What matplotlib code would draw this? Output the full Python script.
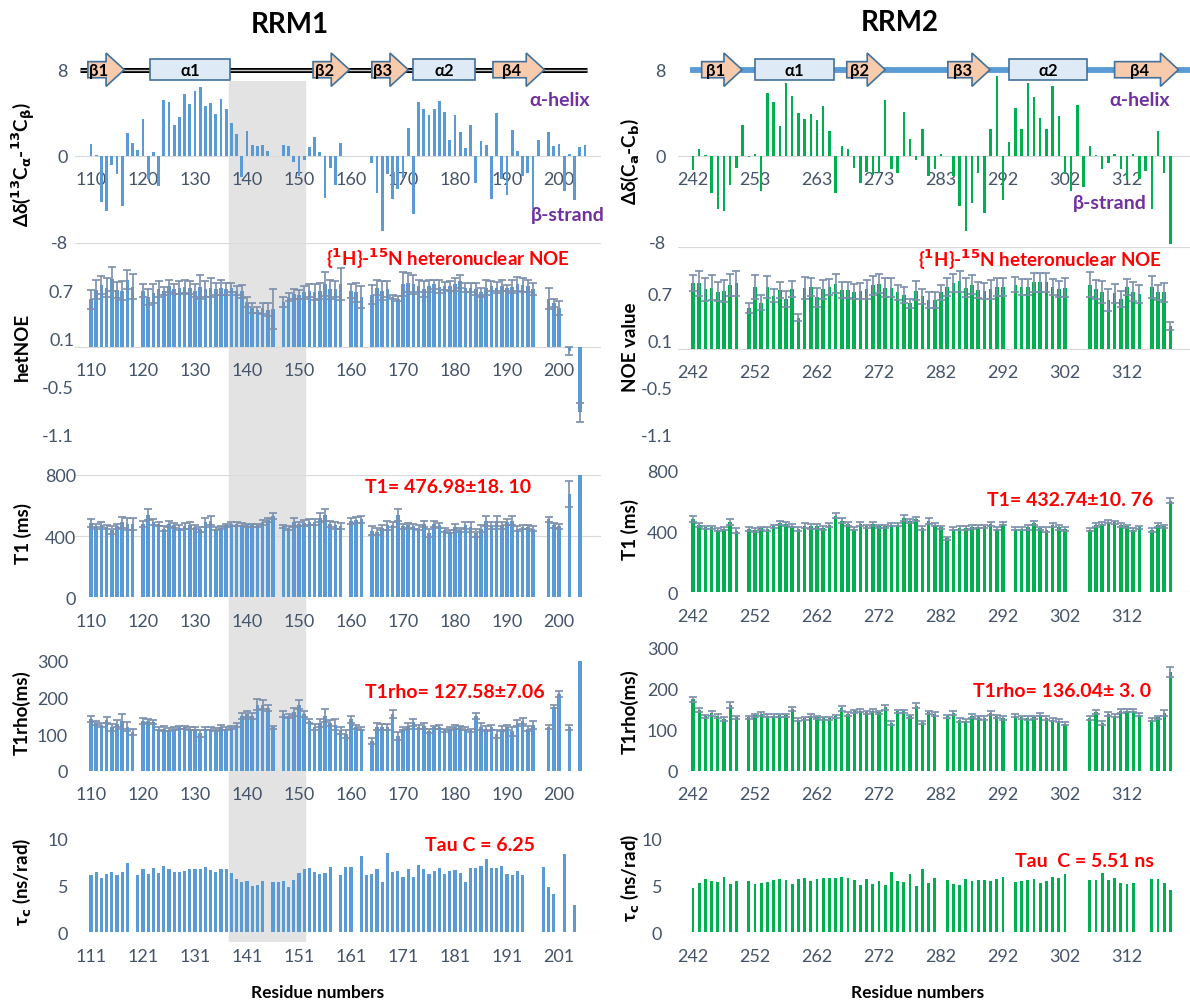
import numpy as np
import matplotlib
matplotlib.use("Agg")
import matplotlib.pyplot as plt
from matplotlib.patches import Polygon, Rectangle

nan = np.nan

# ---------------- RRM1: categories start at residue 110 ----------------
rrm1_labels = ['110', '120', '130', '140', '150', '160', '170', '180', '190', '200']
rrm1_tau_labels = ['111', '121', '131', '141', '151', '161', '171', '181', '191', '201']

rrm1_csi = [1.1, 0.1, -4.3, -5.1, -0.9, -1.7, -4.7, 2.1, 1.2, 0.5,
            3.4, -2.2, 0.3, -2.8, 5.2, 5.0, 2.9, 3.6, 5.7, 4.8,
            6.0, 6.4, 4.6, 4.9, 3.9, 5.3, 4.3, 3.0, 2.0, -2.0,
            2.3, 1.0, 0.9, 1.0, 0.4, nan, nan, 1.0, 0.9, -0.6,
            -1.9, -0.4, 0.8, 1.7, 0.3, -3.9, -1.1, -2.7, 1.2, nan,
            nan, nan, nan, nan, -0.7, -3.5, -7.0, -1.7, -4.0, -3.1,
            -2.1, 2.6, -5.4, 5.0, 4.3, 3.8, 4.3, 5.1, 4.1, 1.5,
            3.8, 2.2, 0.7, 2.9, -2.5, 1.4, 1.0, -4.0, 4.0, -2.2,
            -3.7, 2.4, 0.4, -1.9, -1.6, -5.0, 1.5, nan, 2.2, 0.9,
            1.1, -3.3, 0.2, -4.1, 0.8, 1.0]

rrm1_noe = [0.59, 0.71, 0.77, 0.74, 0.85, 0.71, 0.70, 0.84, 0.75, nan,
            0.70, 0.62, 0.67, 0.72, 0.70, 0.76, 0.72, 0.74, 0.75, 0.74,
            0.70, 0.75, 0.72, 0.74, 0.72, 0.74, 0.72, 0.74, 0.70, 0.69,
            0.56, 0.48, 0.46, 0.48, 0.46, 0.47, nan, 0.56, 0.62, 0.66,
            0.65, 0.68, 0.70, 0.68, 0.70, 0.78, 0.72, 0.72, 0.78, nan,
            0.70, 0.68, 0.62, nan, 0.65, 0.74, 0.70, 0.72, 0.62, 0.60,
            0.78, 0.80, 0.78, 0.76, 0.72, 0.76, 0.78, 0.75, 0.76, 0.76,
            0.78, 0.82, 0.74, 0.74, 0.72, 0.68, 0.74, 0.76, 0.74, 0.76,
            0.73, 0.75, 0.78, 0.77, 0.76, 0.72, nan, nan, 0.60, 0.55,
            0.48, nan, -0.06, nan, -0.82]
rrm1_noe_err = [0.12, 0.12, 0.11, 0.12, 0.15, 0.10, 0.12, 0.12, 0.16, nan,
                0.08, 0.10, 0.12, 0.10, 0.05, 0.08, 0.06, 0.08, 0.08, 0.08,
                0.08, 0.15, 0.10, 0.12, 0.08, 0.10, 0.08, 0.06, 0.06, 0.08,
                0.06, 0.06, 0.04, 0.07, 0.08, 0.25, nan, 0.06, 0.05, 0.06,
                0.06, 0.08, 0.08, 0.10, 0.10, 0.15, 0.12, 0.10, 0.20, nan,
                0.09, 0.12, 0.14, nan, 0.12, 0.10, 0.12, 0.10, 0.03, 0.03,
                0.15, 0.12, 0.12, 0.08, 0.10, 0.08, 0.06, 0.08, 0.05, 0.06,
                0.08, 0.08, 0.06, 0.06, 0.08, 0.06, 0.10, 0.06, 0.07, 0.07,
                0.04, 0.08, 0.09, 0.09, 0.08, 0.08, nan, nan, 0.13, 0.05,
                0.09, nan, 0.05, nan, 0.12]

rrm1_t1 = [485, 465, 475, 460, 440, 465, 490, 480, 480, nan,
           480, 540, 490, 480, 450, 480, 470, 455, 465, 470,
           460, 445, 490, 500, 450, 455, 470, 478, 478, 475,
           472, 470, 470, 490, 505, 530, nan, 465, 455, 490,
           480, 485, 495, 490, 520, 540, 480, 470, 465, nan,
           500, 505, 510, nan, 435, 430, 455, 470, 475, 540,
           465, 470, 465, 455, 480, 420, 480, 470, 440, 430,
           460, 440, 470, 460, 420, 450, 500, 470, 500, 470,
           490, 500, 450, 460, 460, 450, nan, nan, 510, 470,
           465, nan, 675, nan, 800]
rrm1_t1_err = [25, 15, 15, 15, 25, 15, 35, 40, 40, nan,
               20, 35, 20, 15, 15, 20, 15, 15, 20, 20,
               15, 15, 30, 30, 10, 10, 10, 12, 12, 10,
               10, 10, 10, 15, 15, 20, nan, 10, 12, 30,
               15, 20, 20, 20, 30, 40, 20, 20, 20, nan,
               20, 20, 25, nan, 30, 25, 15, 30, 15, 40,
               15, 15, 15, 15, 20, 25, 20, 15, 15, 10,
               20, 15, 20, 30, 25, 25, 35, 20, 35, 20,
               20, 30, 15, 15, 15, 15, nan, nan, 15, 15,
               15, nan, 85, nan, nan]

rrm1_t1rho = [140, 130, 125, 138, 118, 128, 135, 120, 105, nan,
              135, 135, 132, 115, 115, 112, 115, 118, 118, 115,
              115, 102, 115, 115, 112, 118, 115, 118, 125, 150,
              155, 150, 180, 180, 172, 118, nan, 155, 150, 160,
              180, 155, 135, 120, 130, 150, 130, 125, 110, 100,
              140, 120, 115, nan, 80, 120, 120, 120, 155, 95,
              115, 122, 132, 120, 122, 108, 118, 120, 110, 115,
              120, 118, 115, 110, 150, 120, 115, 118, 100, 115,
              118, 108, 130, 135, 115, 125, nan, nan, 120, 175,
              210, nan, 118, nan, 300]
rrm1_t1rho_err = [8, 6, 6, 8, 10, 10, 20, 12, 8, nan,
                  8, 6, 5, 5, 8, 5, 4, 5, 5, 5,
                  5, 10, 5, 5, 5, 6, 5, 5, 6, 8,
                  8, 8, 15, 12, 8, 5, nan, 8, 5, 12,
                  12, 8, 5, 8, 12, 18, 8, 15, 10, 10,
                  10, 5, 5, nan, 8, 10, 8, 8, 10, 10,
                  5, 8, 10, 5, 8, 5, 5, 5, 5, 5,
                  5, 5, 5, 5, 8, 10, 8, 8, 10, 8,
                  8, 12, 8, 8, 8, 10, nan, nan, 5, 5,
                  8, nan, 6, nan, nan]

rrm1_tau = [6.1, 6.45, 5.8, 6.2, 6.45, 6.1, 6.45, 7.4, nan, 6.1,
            6.7, 6.2, 6.85, 6.3, 7.1, 6.7, 6.45, 6.45, 6.55, 6.7,
            6.7, 6.7, 6.9, 6.6, 6.45, 6.7, 6.7, 6.3, 5.7, 5.4,
            5.5, 4.95, 5.0, 5.5, nan, 5.4, 5.4, 5.5, 4.8, 5.55,
            6.3, 6.7, 6.85, 6.45, 6.2, 6.3, 6.9, nan, 6.1, 6.9,
            7.0, nan, 8.1, 6.1, 6.2, 6.7, 5.4, 8.45, 6.45, 6.55,
            5.85, 6.7, 5.85, 7.15, 6.7, 6.2, 6.55, 6.85, 6.2, 6.55,
            6.65, 6.3, 5.4, 6.85, 6.85, 7.1, 7.8, 6.85, 6.85, 7.1,
            6.2, 6.1, 6.55, 6.1, nan, nan, nan, 6.9, 4.8, 4.1,
            nan, 8.35, nan, 2.9]

# secondary structure of RRM1 (category positions)
rrm1_ss_start = [-0.6, 11.4, 42.7, 54.0, 62.0, 77.3]
rrm1_ss_end = [6.4, 26.8, 49.7, 61.0, 73.8, 87.2]
rrm1_ss_kind = ['strand', 'helix', 'strand', 'strand', 'helix', 'strand']
rrm1_ss_name = ['β1', 'α1', 'β2', 'β3', 'α2', 'β4']
rrm1_ss_line = [-2.2, 95.4]
rrm1_shade = [26.6, 41.2]

# ---------------- RRM2: categories start at residue 242 ----------------
rrm2_csi_labels = ['242', '253', '263', '273', '283', '292', '302', '312']
rrm2_labels = ['242', '252', '262', '272', '282', '292', '302', '312']

rrm2_csi = [-1.3, 0.6, 0.05, -3.5, -5.0, -5.1, -2.7, -1.1, 2.9, -0.15,
            0.2, -3.3, 5.8, 5.0, 2.8, 6.8, 5.6, 4.0, 3.4, 3.9,
            3.3, 4.6, 2.3, -3.5, 0.9, 0.6, -1.1, -2.5, -1.5, -1.8,
            -1.6, 5.2, -1.2, -1.6, 4.1, 1.6, -0.4, 2.5, -1.9, -1.2,
            0.15, nan, -1.9, -4.7, -7.0, -4.4, -1.6, -5.3, 2.5, 7.4,
            -4.1, 1.3, 4.4, 2.5, 6.8, 5.5, 3.5, 2.5, 6.5, 3.7,
            -1.7, -3.3, 4.7, -2.9, 0.9, 0.05, -1.2, -0.7, 0.15, -1.2,
            -2.3, 0.2, -2.2, -1.4, -5.0, 2.3, -1.6, -8.2]

rrm2_noe = [0.84, 0.84, 0.76, 0.78, 0.73, 0.74, 0.81, 0.84, nan, 0.52,
            0.79, 0.59, 0.79, 0.68, 0.75, 0.64, 0.76, 0.40, 0.78, 0.79,
            0.66, 0.76, 0.79, 0.83, 0.75, 0.75, 0.73, 0.74, 0.76, 0.81,
            0.83, 0.78, 0.78, 0.72, 0.69, 0.58, 0.74, 0.67, 0.62, 0.62,
            0.72, 0.79, 0.84, 0.86, 0.78, 0.82, 0.75, 0.74, 0.76, 0.79,
            0.79, nan, 0.82, 0.79, 0.79, 0.85, 0.85, 0.85, 0.79, 0.76,
            0.78, nan, nan, nan, 0.82, 0.76, 0.73, 0.62, 0.71, 0.64,
            0.79, 0.73, 0.70, nan, 0.79, 0.72, 0.72, 0.29]
rrm2_noe_err = [0.10, 0.16, 0.15, 0.16, 0.12, 0.14, 0.14, 0.16, nan, 0.06,
                0.15, 0.10, 0.14, 0.08, 0.10, 0.10, 0.10, 0.04, 0.14, 0.12,
                0.12, 0.12, 0.10, 0.12, 0.10, 0.10, 0.10, 0.10, 0.12, 0.12,
                0.12, 0.12, 0.12, 0.10, 0.10, 0.06, 0.12, 0.10, 0.10, 0.10,
                0.10, 0.12, 0.12, 0.14, 0.12, 0.12, 0.10, 0.10, 0.12, 0.12,
                0.12, nan, 0.10, 0.10, 0.10, 0.12, 0.12, 0.12, 0.10, 0.10,
                0.12, nan, nan, nan, 0.16, 0.12, 0.14, 0.14, 0.12, 0.10,
                0.10, 0.12, 0.12, nan, 0.14, 0.10, 0.12, 0.05]

rrm2_t1 = [482, 443, 428, 428, 412, 417, 460, 405, nan, 417,
           410, 421, 417, 434, 456, 450, 439, 417, 439, 434,
           434, 421, 443, 504, 471, 450, 417, 450, 434, 450,
           434, 434, 443, 443, 487, 471, 482, 421, 471, 443,
           428, 355, 417, 421, 421, 428, 432, 434, 450, 417,
           450, nan, 417, 417, 428, 456, 421, 412, 443, 428,
           417, nan, nan, nan, 412, 443, 450, 465, 460, 443,
           434, 412, 428, nan, 412, 443, 434, 603]
rrm2_t1_err = [20, 12, 10, 10, 10, 10, 20, 15, nan, 12,
               10, 10, 12, 10, 10, 12, 12, 12, 15, 15,
               15, 12, 15, 15, 15, 12, 10, 12, 10, 12,
               10, 12, 10, 10, 20, 12, 12, 12, 20, 10,
               10, 12, 10, 12, 12, 12, 12, 12, 12, 10,
               10, nan, 10, 10, 15, 12, 10, 15, 12, 15,
               12, nan, nan, nan, 10, 12, 10, 12, 10, 12,
               12, 10, 10, nan, 12, 12, 10, 15]

rrm2_t1rho = [174, 148, 132, 140, 132, 126, 160, 130, nan, 130,
              135, 138, 134, 134, 135, 135, 150, 124, 127, 134,
              130, 127, 127, 132, 152, 138, 144, 146, 142, 146,
              142, 154, 116, 144, 144, 132, 158, 118, 142, 138,
              nan, 132, 140, 124, 122, 134, 130, 128, 140, 132,
              128, nan, 134, 130, 128, 130, 136, 128, 124, 122,
              114, nan, nan, nan, 128, 142, 116, 138, 134, 145,
              146, 146, 136, nan, 124, 130, 140, 240]
rrm2_t1rho_err = [6, 5, 4, 6, 5, 4, 8, 4, nan, 4,
                  4, 5, 4, 4, 4, 4, 4, 4, 4, 4,
                  4, 4, 4, 4, 6, 4, 4, 4, 4, 4,
                  4, 6, 4, 4, 4, 4, 6, 4, 4, 4,
                  nan, 4, 5, 5, 4, 5, 4, 4, 4, 4,
                  4, nan, 4, 4, 4, 4, 4, 4, 4, 4,
                  4, nan, nan, nan, 4, 5, 6, 5, 4, 4,
                  4, 4, 4, nan, 4, 4, 8, 12]

rrm2_tau = [4.8, 5.25, 5.7, 5.45, 5.4, 5.9, 5.2, 5.55, nan, 5.55,
            5.2, 5.3, 5.4, 5.6, 5.7, 5.6, 5.15, 5.7, 5.8, 5.5,
            5.7, 5.8, 5.85, 5.8, 5.9, 5.8, 5.6, 5.1, 5.7, 5.15,
            5.55, 5.1, 6.5, 5.55, 5.4, 6.2, 5.0, 6.8, 5.3, 5.8,
            nan, 5.6, 5.2, 5.1, 5.75, 5.45, 5.6, 5.65, 5.45, 5.7,
            5.95, nan, 5.35, 5.45, 5.6, 5.75, 5.3, 5.5, 5.9, 5.85,
            6.2, nan, nan, nan, 5.6, 5.6, 6.4, 5.6, 5.85, 5.25,
            5.15, 5.25, nan, nan, 5.75, 5.75, 5.25, 4.5]

rrm2_ss_start = [1.4, 10.0, 24.8, 41.1, 51.0, 68.0]
rrm2_ss_end = [7.9, 22.7, 31.0, 47.9, 63.5, 78.3]
rrm2_ss_kind = ['strand', 'helix', 'strand', 'strand', 'helix', 'strand']
rrm2_ss_name = ['β1', 'α1', 'β2', 'β3', 'α2', 'β4']
rrm2_ss_line = [-0.5, 81.0]

# ---------------- styling ----------------
plt.rcParams['font.family'] = ['Lato', 'DejaVu Sans']
plt.rcParams['mathtext.fontset'] = 'custom'
plt.rcParams['mathtext.rm'] = 'DejaVu Sans:bold'
plt.rcParams['mathtext.it'] = 'DejaVu Sans:bold'
plt.rcParams['mathtext.bf'] = 'DejaVu Sans:bold'

TICK = '#44546a'
ERR = '#7b8eab'
BLUE = '#5b9bd5'
GREEN = '#00b050'
RED = '#ff0000'
PURPLE = '#7030a0'

W, H = 1190, 1003
fig = plt.figure(figsize=(W / 100, H / 100), dpi=100)

# pixel layout of the two columns: (px of category 0, px per category), xlim
LX = (91.0, 5.2)
LXLIM = (-3, 98)
RX = (693, 6.2)
RXLIM = (-2.5, 80.4)


def ftext(x, y, s, **kw):
    return fig.text(x / W, 1 - y / H, s, **kw)


def add_panel(xmap, xlim, yref, ylim):
    x0 = xmap[0] + xlim[0] * xmap[1]
    x1 = xmap[0] + xlim[1] * xmap[1]
    v1, p1, v2, p2 = yref
    k = (p2 - p1) / (v2 - v1)
    ptop = p1 + (ylim[1] - v1) * k
    pbot = p1 + (ylim[0] - v1) * k
    ax = fig.add_axes([x0 / W, 1 - pbot / H, (x1 - x0) / W, (pbot - ptop) / H])
    ax.set_xlim(xlim)
    ax.set_ylim(ylim)
    ax.patch.set_alpha(0)
    for s in ax.spines.values():
        s.set_visible(False)
    return ax, x0


def style(ax, axleft, xlabels, yticks, ylabels, ylab_right):
    ax.set_xticks(np.arange(len(xlabels)) * 10, xlabels)
    ax.spines['bottom'].set_position(('data', 0))
    ax.tick_params(axis='x', length=0, pad=11, labelsize=13, labelcolor=TICK)
    ax.set_yticks(yticks, ylabels)
    ax.tick_params(axis='y', length=0, pad=(axleft - ylab_right) * 0.72,
                   labelsize=13, labelcolor=TICK)
    ax.axhline(0, color='#d9d9d9', lw=0.8, zorder=1)


def bars(ax, vals, err, color, width):
    vals = np.asarray(vals, float)
    x = np.arange(len(vals))
    m = ~np.isnan(vals)
    ax.bar(x[m], vals[m], width=width, color=color, zorder=2)
    if err is not None:
        err = np.asarray(err, float)
        me = m & ~np.isnan(err)
        ax.errorbar(x[me], vals[me], yerr=err[me], fmt='none', ecolor=ERR,
                    elinewidth=1.2, capsize=2.6, capthick=1.2, zorder=3)


def ss(ax, starts, ends, kinds, names, y, head):
    for s, e, kd, nm in zip(starts, ends, kinds, names):
        if kd == 'strand':
            hb, hh = 0.75, 1.55
            verts = [(s, y - hb), (e - head, y - hb), (e - head, y - hh), (e, y),
                     (e - head, y + hh), (e - head, y + hb), (s, y + hb)]
            ax.add_patch(Polygon(verts, closed=True, fc='#f8cbad', ec='#41719c',
                                 lw=1.2, zorder=5, clip_on=False))
            cx = (s + e - head) / 2 + 0.4
        else:
            hb = 0.95
            ax.add_patch(Rectangle((s, y - hb), e - s, 2 * hb, fc='#deebf7',
                                   ec='#41719c', lw=1.2, zorder=5, clip_on=False))
            cx = (s + e) / 2
        ax.text(cx, y, nm, ha='center', va='center', fontsize=12,
                fontweight='bold', color='black', zorder=6, clip_on=False)


# ---------------- gray shaded region behind RRM1 panels ----------------
bx0 = LX[0] + LXLIM[0] * LX[1]
bx1 = LX[0] + LXLIM[1] * LX[1]
bg = fig.add_axes([bx0 / W, 1 - 943 / H, (bx1 - bx0) / W, (943 - 82) / H])
bg.set_xlim(LXLIM)
bg.axis('off')
bg.axvspan(rrm1_shade[0], rrm1_shade[1], color='#e3e3e3', zorder=0)

# ---------------- RRM1 column ----------------
ax, a0 = add_panel(LX, LXLIM, (8, 70.7, 0, 156.7), (-8.6, 10))
style(ax, a0, rrm1_labels, [-8, 0, 8], ['-8', '0', '8'], 68)
bars(ax, rrm1_csi, None, BLUE, 0.55)
ax.plot(rrm1_ss_line, [8, 8], color='black', lw=3.6, solid_capstyle='butt',
        zorder=4, clip_on=False)
ax.plot(rrm1_ss_line, [8, 8], color='#c8c8c8', lw=1.0, solid_capstyle='butt',
        zorder=4, clip_on=False)
ss(ax, rrm1_ss_start, rrm1_ss_end, rrm1_ss_kind, rrm1_ss_name, 8, 3.5)

ax, a0 = add_panel(LX, LXLIM, (0.7, 291.7, -1.1, 435.5), (-1.1, 1.3))
style(ax, a0, rrm1_labels, [-1.1, -0.5, 0.1, 0.7], ['-1.1', '-0.5', '0.1', '0.7'], 74)
ax.axhline(1.3, color='#d9d9d9', lw=0.8, zorder=1)
bars(ax, rrm1_noe, rrm1_noe_err, BLUE, 0.72)

ax, a0 = add_panel(LX, LXLIM, (800, 476, 0, 598.3), (0, 800))
style(ax, a0, rrm1_labels, [0, 400, 800], ['0', '400', '800'], 76)
for g in (400, 800):
    ax.axhline(g, color='#d9d9d9', lw=0.8, zorder=1)
bars(ax, rrm1_t1, rrm1_t1_err, BLUE, 0.72)

ax, a0 = add_panel(LX, LXLIM, (300, 661.7, 0, 771.7), (0, 300))
style(ax, a0, rrm1_labels, [0, 100, 200, 300], ['0', '100', '200', '300'], 68)
bars(ax, rrm1_t1rho, rrm1_t1rho_err, BLUE, 0.72)

ax, a0 = add_panel(LX, LXLIM, (10, 839.3, 0, 933.3), (0, 10))
style(ax, a0, rrm1_tau_labels, [0, 5, 10], ['0', '5', '10'], 68)
bars(ax, rrm1_tau, None, BLUE, 0.62)

# ---------------- RRM2 column ----------------
ax, a0 = add_panel(RX, RXLIM, (8, 70.7, 0, 156.7), (-8.6, 10))
style(ax, a0, rrm2_csi_labels, [-8, 0, 8], ['-8', '0', '8'], 666)
bars(ax, rrm2_csi, None, GREEN, 0.38)
ax.plot(rrm2_ss_line, [8, 8], color=BLUE, lw=4.2, solid_capstyle='butt',
        zorder=4, clip_on=False)
ss(ax, rrm2_ss_start, rrm2_ss_end, rrm2_ss_kind, rrm2_ss_name, 8, 2.9)

ax, a0 = add_panel(RX, RXLIM, (0.7, 295, -1.1, 436), (-1.1, 1.3))
style(ax, a0, rrm2_labels, [-1.1, -0.5, 0.1, 0.7], ['-1.1', '-0.5', '0.1', '0.7'], 673)
ax.axhline(1.3, color='#d9d9d9', lw=0.8, zorder=1)
bars(ax, rrm2_noe, rrm2_noe_err, GREEN, 0.55)

ax, a0 = add_panel(RX, RXLIM, (800, 471.7, 0, 593.3), (0, 800))
style(ax, a0, rrm2_labels, [0, 400, 800], ['0', '400', '800'], 678)
bars(ax, rrm2_t1, rrm2_t1_err, GREEN, 0.55)

ax, a0 = add_panel(RX, RXLIM, (300, 648.3, 0, 771.7), (0, 300))
style(ax, a0, rrm2_labels, [0, 100, 200, 300], ['0', '100', '200', '300'], 678)
bars(ax, rrm2_t1rho, rrm2_t1rho_err, GREEN, 0.5)

ax, a0 = add_panel(RX, RXLIM, (10, 840, 0, 933.3), (0, 10))
style(ax, a0, rrm2_labels, [0, 5, 10], ['0', '5', '10'], 662)
bars(ax, rrm2_tau, None, GREEN, 0.45)

# ---------------- texts ----------------
ftext(290, 25, 'RRM1', ha='center', va='center', fontsize=20, fontweight='bold')
ftext(900, 23, 'RRM2', ha='center', va='center', fontsize=20, fontweight='bold')

ylab = dict(rotation=90, ha='center', va='center', fontsize=13.5, fontweight='bold')
ftext(24, 165, 'Δδ($^{13}$C$_α$-$^{13}$C$_β$)', **ylab)
ftext(22, 347, 'hetNOE', **ylab)
ftext(23, 533, 'T1 (ms)', **ylab)
ftext(22, 713, 'T1rho(ms)', **ylab)
ftext(22, 882, 'τ$_c$ (ns/rad)', **ylab)
ftext(630, 162, 'Δδ(C$_a$-C$_b$)', **ylab)
ftext(630, 347, 'NOE value', **ylab)
ftext(630, 530, 'T1 (ms)', **ylab)
ftext(630, 712, 'T1rho(ms)', **ylab)
ftext(630, 878, 'τ$_c$ (ns/rad)', **ylab)

ss_txt = dict(ha='center', va='center', fontsize=14, fontweight='bold', color=PURPLE)
ftext(560, 101, 'α-helix', **ss_txt)
ftext(568, 216, 'β-strand', **ss_txt)
ftext(1140, 100, 'α-helix', **ss_txt)
ftext(1110, 203, 'β-strand', **ss_txt)

red = dict(ha='center', va='center', fontsize=14, fontweight='bold', color=RED)
ftext(448, 259, '{$^1$H}-$^{15}$N heteronuclear NOE', **dict(red, fontsize=13.5))
ftext(448, 488, 'T1= 476.98±18. 10', **red)
ftext(455, 693, 'T1rho= 127.58±7.06', **red)
ftext(480, 846, 'Tau C = 6.25', **red)
ftext(1040, 260, '{$^1$H}-$^{15}$N heteronuclear NOE', **dict(red, fontsize=13.5))
ftext(1070, 500, 'T1= 432.74±10. 76', **red)
ftext(1062, 692, 'T1rho= 136.04± 3. 0', **red)
ftext(1084, 862, 'Tau  C = 5.51 ns', **red)

ftext(318, 993, 'Residue numbers', ha='center', va='center', fontsize=12.5, fontweight='bold')
ftext(918, 993, 'Residue numbers', ha='center', va='center', fontsize=12.5, fontweight='bold')

fig.savefig('out.png', dpi=100)
